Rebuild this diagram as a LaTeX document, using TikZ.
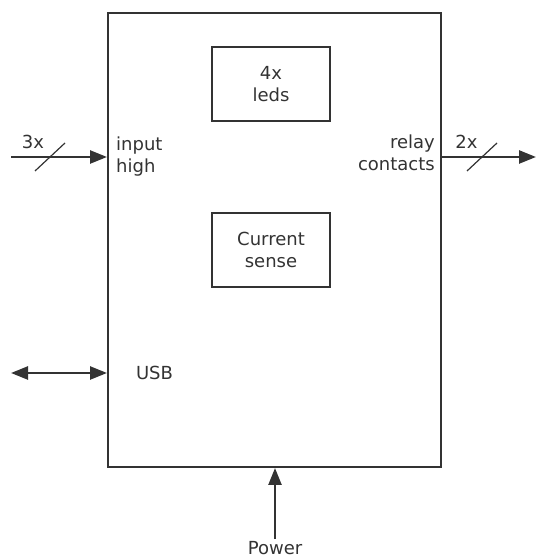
\documentclass[tikz,border=0pt]{standalone}
\usepackage{fontspec}
\setmainfont{DejaVu Sans}
\usetikzlibrary{arrows.meta}
\definecolor{ink}{HTML}{333333}
\tikzset{
  block/.style={draw=ink, line width=2pt, minimum width=118pt, minimum height=74pt, align=center},
  lbl/.style={text=ink, inner sep=0pt},
  bus/.style={draw=ink, line width=1.2pt}
}
\begin{document}
\begin{tikzpicture}[x=1pt, y=1pt, font=\fontsize{18}{22}\selectfont, text=ink]
  \useasboundingbox (0,0) rectangle (536,556);
  \draw
    (274.5,316) node[draw=ink, line width=2pt, minimum width=333pt, minimum height=454pt] (board){}
    (271,471.5) node[block] (leds){4x\\leds}
    (271,306) node[block] (sense){Current\\sense}
    (116,399) node[lbl, anchor=west, align=left] (input){input\\high}
    (435,403) node[lbl, anchor=east, align=right] (relay){relay\\contacts}
    (154.5,183) node[lbl] (usb){USB}
    (275,1.5) node[lbl, anchor=base] (power){Power}
    (33,414) node[lbl] (inbits){3x}
    (466.5,414) node[lbl] (outbits){2x};
  \coordinate (inend) at (11,399);
  \coordinate (outend) at (536,399);
  \coordinate (usbend) at (11,183);
  \begin{scope}[ink, line width=2.5pt, -{Triangle[length=17pt, width=13pt]}]
    \draw (inend) to (board.west |- inend);
    \draw (board.east |- outend) to (outend);
    \draw[{Triangle[length=17pt, width=13pt]}-{Triangle[length=17pt, width=13pt]}] (usbend) to (board.west |- usbend);
    \draw ([yshift=2pt]power.north) to (board.south -| power);
  \end{scope}
  \begin{scope}[bus]
    \draw (35,385) -- (65,413);
    \draw (467,385) -- (497,413);
  \end{scope}
\end{tikzpicture}
\end{document}
